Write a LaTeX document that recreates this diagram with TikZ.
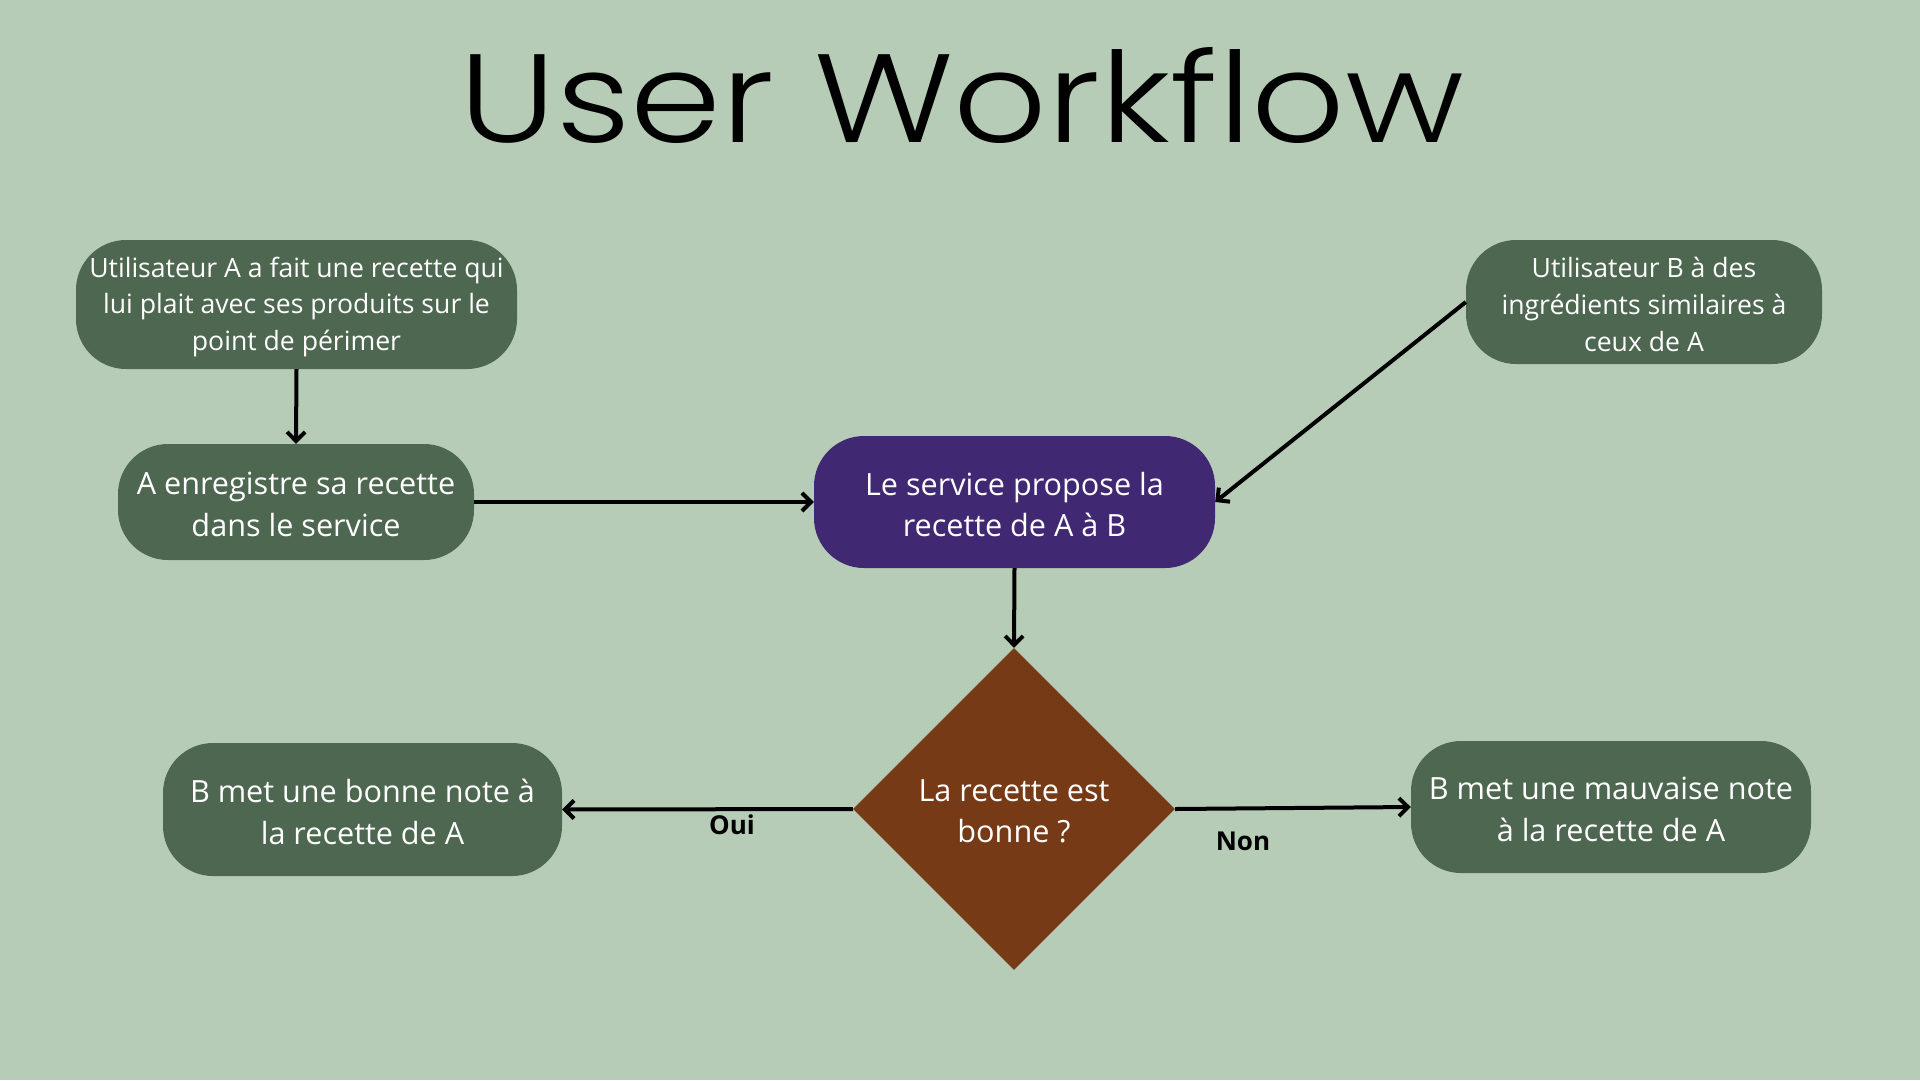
\documentclass[tikz,border=0pt]{standalone}
\usepackage{fontspec}
\setmainfont{Open Sans}
\newfontfamily\titlefont{Poppins Light}
\usetikzlibrary{shapes.geometric,arrows.meta}
\definecolor{bg}{HTML}{B7CCB7}
\definecolor{boxgreen}{HTML}{4E6750}
\definecolor{boxpurple}{HTML}{402872}
\definecolor{boxbrown}{HTML}{773A16}
\newcommand{\lowtxt}[2]{\raisebox{-2.5pt}[\height][\depth]{\parbox{#1}{\centering #2}}}
\begin{document}
\begin{tikzpicture}[x=1pt,y=-1pt,
  box/.style={fill=boxgreen, rounded corners=50pt, text=white, align=center, inner sep=0pt},
  smalltext/.style={font=\fontsize{26.6}{36.7}\selectfont},
  bigtext/.style={font=\fontsize{30.6}{41.5}\selectfont},
  conn/.style={line width=4pt, -{Straight Barb[length=9pt,width=18pt]}},
  lbl/.style={font=\bfseries\fontsize{26}{30}\selectfont, text=black, inner sep=0pt}]
\fill[bg] (0,0) rectangle (1920,1080);
\useasboundingbox (0,0) rectangle (1920,1080);
\node[anchor=base, inner sep=0pt] (title) at (962,142) {\resizebox{1004pt}{95pt}{\titlefont User Workflow}};
\node[box, smalltext, minimum width=441pt, minimum height=129pt] (b1) at (296.5,304.5)
  {\lowtxt{441pt}{Utilisateur A a fait une recette qui\\lui plait avec ses produits sur le\\point de périmer}};
\node[box, bigtext, minimum width=356pt, minimum height=116pt] (b2) at (296,502)
  {\lowtxt{356pt}{A enregistre sa recette\\dans le service}};
\node[box, bigtext, fill=boxpurple, minimum width=401pt, minimum height=132pt] (b3) at (1014.5,502)
  {\lowtxt{401pt}{Le service propose la\\recette de A à B}};
\node[box, smalltext, minimum width=356pt, minimum height=124pt] (b4) at (1644,302)
  {\lowtxt{356pt}{Utilisateur B à des\\ingrédients similaires à\\ceux de A}};
\node[diamond, aspect=1, fill=boxbrown, text=white, align=center, inner sep=0pt,
  minimum width=322pt, minimum height=322pt, bigtext] (d) at (1014,809)
  {\lowtxt{220pt}{La recette est\\bonne ?}};
\node[box, bigtext, minimum width=399pt, minimum height=133pt] (b5) at (362.5,809.5)
  {\lowtxt{399pt}{B met une bonne note à\\la recette de A}};
\node[box, bigtext, minimum width=400pt, minimum height=132pt] (b6) at (1611,807)
  {\lowtxt{400pt}{B met une mauvaise note\\à la recette de A}};
\draw[conn] (b1.south) -- (b2.north);
\draw[conn] (b2.east) -- (b3.west);
\draw[conn] (b4.west) -- (b3.east);
\draw[conn] (b3.south) -- (d.north);
\draw[conn] (d.west) -- (b5.east);
\draw[conn] (d.east) -- (b6.west);
\node[lbl] (oui) at (732,825) {Oui};
\node[lbl] (non) at (1243,841) {Non};
\end{tikzpicture}
\end{document}
